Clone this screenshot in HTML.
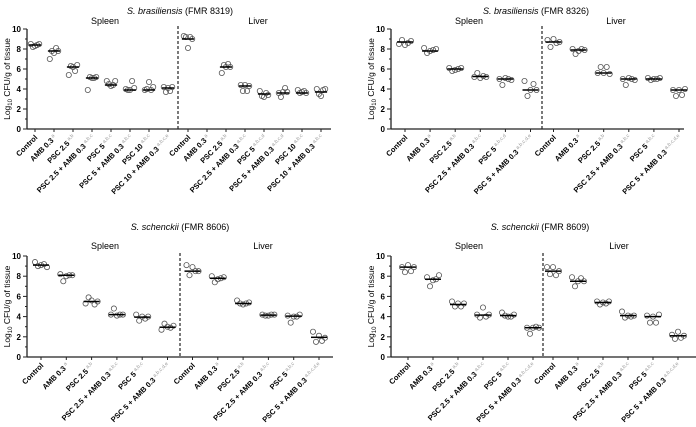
<!DOCTYPE html>
<html><head><meta charset="utf-8"><style>
body{margin:0;background:#fff;}
svg{display:block;font-family:"Liberation Sans",sans-serif;}
</style></head><body>
<svg id="fig" width="696" height="427" viewBox="0 0 696 427" xmlns="http://www.w3.org/2000/svg"></svg>
<script>
// ---- Data (log10 CFU/g) ----
const p1Labels=["Control","AMB 0.3|a","PSC 2.5|a,b","PSC 2.5 + AMB 0.3|a,b,c","PSC 5|a,b,c","PSC 5 + AMB 0.3|a,b,c","PSC 10|a,b,c","PSC 10 + AMB 0.3|a,b,c,e","Control","AMB 0.3|a","PSC 2.5|a,b","PSC 2.5 + AMB 0.3|a,b,c","PSC 5|a,b,c,d","PSC 5 + AMB 0.3|a,b,c,d","PSC 10|a,b,c","PSC 10 + AMB 0.3|a,b,c"];
const p1Medians=[8.4,7.8,6.2,5.1,4.4,3.9,3.9,4.1,9.0,null,6.2,4.3,3.5,3.6,3.6,3.7];
const p1Points=[[8.5,8.2,8.3,8.4,8.5],[7.0,7.8,7.6,8.1,7.8],[5.4,6.3,6.2,5.8,6.4],[3.9,5.2,5.1,5.1,5.2],[4.8,4.5,4.3,4.4,4.8],[4.0,3.9,3.9,4.8,4.1],[3.9,4.0,4.7,3.9,4.2],[4.2,3.7,4.1,3.8,4.2],[9.3,9.2,8.1,9.2,9.0],[],[5.6,6.4,6.2,6.5,6.2],[4.4,3.8,4.4,3.8,4.3],[3.8,3.3,3.2,3.6,3.4],[3.6,3.2,3.7,4.1,3.7],[3.9,3.6,3.7,3.8,3.6],[4.0,3.5,3.3,3.9,4.0]];
const p2Labels=["Control","AMB 0.3|a","PSC 2.5|a,b","PSC 2.5 + AMB 0.3|a,b,c","PSC 5|a,b,c,d","PSC 5 + AMB 0.3|a,b,c,d,e","Control","AMB 0.3|a","PSC 2.5|a,b","PSC 2.5 + AMB 0.3|a,b,c","PSC 5|a,b,c","PSC 5 + AMB 0.3|a,b,c,d,e"];
const p2Medians=[8.7,7.8,6.0,5.25,5.0,3.9,8.7,7.9,5.6,5.0,5.0,3.9];
const p2Points=[[8.5,8.9,8.4,8.6,8.8],[8.1,7.6,7.8,7.9,8.0],[6.1,5.8,5.9,6.0,6.1],[5.2,5.6,5.1,5.3,5.2],[5.0,4.4,5.1,5.0,4.9],[4.8,3.3,3.9,4.5,3.9],[8.9,8.2,9.0,8.6,8.7],[8.0,7.5,7.8,8.0,7.9],[5.6,6.2,5.6,6.2,5.5],[5.0,4.4,5.1,5.0,4.9],[5.1,4.9,5.0,5.0,5.1],[3.9,3.3,3.9,3.4,4.0]];
const p3Labels=["Control","AMB 0.3|a","PSC 2.5|a,b","PSC 2.5 + AMB 0.3|a,b,c","PSC 5|a,b,c","PSC 5 + AMB 0.3|a,b,c,d,e","Control","AMB 0.3|a","PSC 2.5|a,b","PSC 2.5 + AMB 0.3|a,b,c","PSC 5|a,b,c","PSC 5 + AMB 0.3|a,b,c,d,e"];
const p3Medians=[9.1,8.1,5.5,4.2,3.95,2.95,8.5,7.8,5.3,4.15,4.05,1.95];
const p3Points=[[9.4,9.0,9.1,9.2,8.9],[8.2,7.5,8.0,8.1,8.1],[5.3,5.9,5.6,5.2,5.5],[4.2,4.8,4.1,4.2,4.2],[4.2,3.6,4.0,3.8,4.0],[2.7,3.3,3.0,2.9,3.1],[9.1,8.1,8.9,8.5,8.5],[8.0,7.4,7.7,7.8,7.9],[5.6,5.3,5.2,5.3,5.4],[4.2,4.1,4.1,4.2,4.2],[4.1,3.4,4.0,4.0,4.2],[2.5,1.5,2.1,1.6,1.9]];
const p4Labels=p3Labels;
const p4Medians=[8.9,7.7,5.2,4.15,4.1,2.9,8.5,7.5,5.4,4.1,4.0,2.1];
const p4Points=[[8.9,8.4,9.1,8.5,8.9],[7.9,7.0,7.6,7.7,8.1],[5.5,5.0,5.3,5.0,5.3],[4.2,3.9,4.9,4.0,4.2],[4.4,4.1,4.0,4.0,4.2],[2.9,2.3,2.9,3.0,2.9],[8.9,8.2,8.9,8.1,8.5],[7.9,7.0,7.5,7.8,7.5],[5.5,5.2,5.4,5.3,5.5],[4.5,3.9,4.1,4.0,4.1],[4.1,3.4,4.0,3.4,4.2],[2.2,1.8,2.5,1.9,2.1]];
const yTicks=[0,2,4,6,8,10];

const NS="http://www.w3.org/2000/svg";
const svg=document.getElementById('fig');
function mk(tag,attrs,parent){const e=document.createElementNS(NS,tag);for(const k in attrs)e.setAttribute(k,attrs[k]);(parent||svg).appendChild(e);return e;}

const panels=[
 {id:'p1',title:'(FMR 8319)',sp:'S. brasiliensis',labels:p1Labels,med:p1Medians,pts:p1Points,ax:27,axEnd:331,y0:129,y10:29,x0:35,step:19.0,dash:178,titleY:14,subY:24,spX:105,lvX:258,titleX:180,js:0.7},
 {id:'p2',title:'(FMR 8326)',sp:'S. brasiliensis',labels:p2Labels,med:p2Medians,pts:p2Points,ax:391,axEnd:684,y0:129,y10:29,x0:405,step:25.1,dash:542,titleY:14,subY:24,spX:469,lvX:616,titleX:536,js:1},
 {id:'p3',title:'(FMR 8606)',sp:'S. schenckii',labels:p3Labels,med:p3Medians,pts:p3Points,ax:27,axEnd:333,y0:357,y10:256,x0:41,step:25.3,dash:180,titleY:230,subY:249,spX:105,lvX:263,titleX:180,js:1},
 {id:'p4',title:'(FMR 8609)',sp:'S. schenckii',labels:p4Labels,med:p4Medians,pts:p4Points,ax:391,axEnd:696,y0:357,y10:256,x0:408,step:25.0,dash:543,titleY:230,subY:249,spX:469,lvX:619,titleX:540,js:1}
];
const jit=[-6,-3,0,3,6];
panels.forEach(P=>{
  const g=mk('g',{});
  
  
  const n=P.labels.length, half=n/2;
  const yS=v=>P.y0-(v/10)*(P.y0-P.y10);
  const xPos=i=>{ if(i<half) return P.x0+i*P.step; const first=P.dash+(P.dash-(P.x0+(half-1)*P.step)); return first+(i-half)*P.step; };
  const t=mk('text',{x:P.titleX,y:P.titleY,'text-anchor':'middle','font-size':9},g);
  
  
  const ti=mk('tspan',{'font-style':'italic'},t);ti.textContent=P.sp+' ';
  const tr=mk('tspan',{},t);tr.textContent=P.title;
  const s=mk('text',{x:P.spX,y:P.subY,'text-anchor':'middle','font-size':9},g);s.textContent='Spleen';
  
  
  const l=mk('text',{x:P.lvX,y:P.subY,'text-anchor':'middle','font-size':9},g);l.textContent='Liver';
  
  
  const ya=mk('line',{x1:P.ax,y1:P.y10,x2:P.ax,y2:P.y0,stroke:'#222','stroke-width':1.3},g);
  
  
  const xa=mk('line',{x1:P.ax,y1:P.y0,x2:P.axEnd,y2:P.y0,stroke:'#222','stroke-width':1.3},g);
  
  
  for(let v=0;v<=10;v++){
    const y=yS(v);
    mk('line',{x1:P.ax-(v%2?2:4),y1:y,x2:P.ax,y2:y,stroke:'#222','stroke-width':1},g);
  }
  yTicks.forEach(v=>{
    const tx=mk('text',{x:P.ax-6,y:yS(v)+3,'text-anchor':'end','font-size':8,'font-weight':'bold'},g);
    tx.textContent=v;
    
    
  });
  const yt=mk('text',{transform:`translate(${P.ax-17},${(P.y0+P.y10)/2}) rotate(-90)`,'text-anchor':'middle','font-size':8.5},g);
  
  
  const a=mk('tspan',{},yt);a.textContent='Log';
  const b=mk('tspan',{'font-size':6,dy:2},yt);b.textContent='10';
  const c=mk('tspan',{dy:-2},yt);c.textContent=' CFU/g of tissue';
  const dl=mk('line',{x1:P.dash,y1:P.y10-3,x2:P.dash,y2:P.y0,stroke:'#222','stroke-width':1.2,'stroke-dasharray':'3,2'},g);
  
  
  for(let i=0;i<n;i++){
    const x=xPos(i);
    mk('line',{x1:x,y1:P.y0,x2:x,y2:P.y0+3,stroke:'#222','stroke-width':1},g);
    const [name,sup]=P.labels[i].split('|');
    const lb=mk('text',{transform:`translate(${x+3},${P.y0+9}) rotate(-45)`,'text-anchor':'end','font-size':7.5,'font-weight':'bold'},g);
    
    
    const t1=mk('tspan',{},lb);t1.textContent=name;
    if(sup){const t2=mk('tspan',{'font-size':5,dy:-3,fill:'#999','font-weight':'normal'},lb);t2.textContent=' '+sup;}
    P.pts[i].forEach((v,k)=>{
      const cc=mk('circle',{cx:x+jit[k]*P.js,cy:yS(v),r:2.6,fill:'none',stroke:'#555','stroke-width':0.8},g);
      
      
    });
    if(P.med[i]!=null){
      const hw=8*P.js+(P.js<1?0.5:0);
      const m=mk('line',{x1:x-hw,y1:yS(P.med[i]),x2:x+hw,y2:yS(P.med[i]),stroke:'#000','stroke-width':1.5},g);
      
      
    }
  }
});
</script>
</body></html>
